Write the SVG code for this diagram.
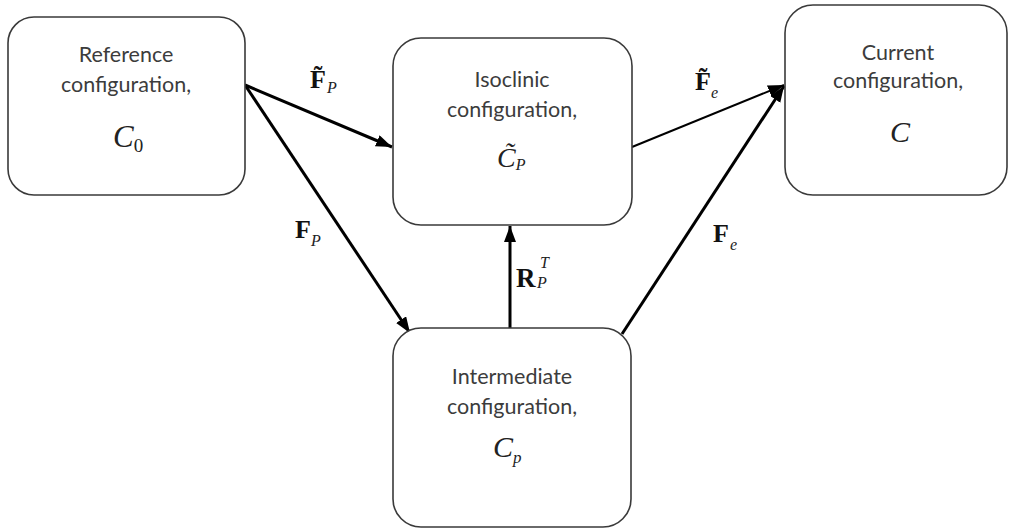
<svg xmlns="http://www.w3.org/2000/svg" width="1011" height="529" viewBox="0 0 1011 529">
<style>
.box{fill:#fff;stroke:#3a3a3a;stroke-width:1.6}
.lbl{font-family:Lato,"Open Sans",sans-serif;font-size:21.5px;fill:#3c3c3c;text-anchor:middle}
.math{font-family:"Liberation Serif",serif;font-style:italic;fill:#222}
.bold{font-family:"Liberation Serif",serif;font-weight:bold;fill:#111}
.sub{font-family:"Liberation Serif",serif;font-style:italic;fill:#222}
.thick{stroke:#000;stroke-width:3;fill:none;marker-end:url(#ah)}
.thin{stroke:#000;stroke-width:2;fill:none;marker-end:url(#ah)}
</style>
<defs>
<marker id="ah" markerUnits="userSpaceOnUse" markerWidth="18" markerHeight="14" refX="16" refY="6" orient="auto">
<path d="M0,0 L16,6 L0,12 Z" fill="#000"/>
</marker>
</defs>
<g id="connectors">
<line class="thick" x1="245" y1="85" x2="392" y2="147"/>
<line class="thick" x1="245" y1="85" x2="410" y2="333"/>
<line class="thin" x1="632" y1="147" x2="784" y2="85"/>
<line class="thick" x1="622" y1="334" x2="784" y2="86"/>
<line class="thick" x1="510" y1="328" x2="510" y2="226"/>
<text class="bold" x="310" y="88" font-size="26">F̃</text>
<text class="sub" x="327" y="93" font-size="16">P</text>
<text class="bold" x="695" y="90" font-size="26">F̃</text>
<text class="sub" x="711" y="98" font-size="16">e</text>
<text class="bold" x="295" y="238" font-size="26">F</text>
<text class="sub" x="311" y="246" font-size="16">P</text>
<text class="bold" x="713" y="242" font-size="26">F</text>
<text class="sub" x="730" y="250" font-size="16">e</text>
<text class="bold" x="516" y="287" font-size="27">R</text>
<text class="sub" x="540" y="268" font-size="16">T</text>
<text class="sub" x="537" y="288" font-size="16">P</text>
</g>
<g id="reference">
<rect class="box" x="8" y="17" width="237" height="178" rx="26"/>
<text class="lbl" x="126" y="62">Reference</text>
<text class="lbl" x="126" y="92">configuration,</text>
<text class="math" x="113" y="147" font-size="31">C<tspan font-style="normal" font-size="19" dy="5">0</tspan></text>
</g>
<g id="isoclinic">
<rect class="box" x="393" y="38" width="239" height="187" rx="28"/>
<text class="lbl" x="512" y="87">Isoclinic</text>
<text class="lbl" x="512" y="117">configuration,</text>
<text class="math" x="497" y="167" font-size="28">C̃<tspan font-size="16" dy="3">P</tspan></text>
</g>
<g id="current">
<rect class="box" x="785" y="5" width="222" height="190" rx="28"/>
<text class="lbl" x="898" y="60">Current</text>
<text class="lbl" x="898" y="88">configuration,</text>
<text class="math" x="890" y="142" font-size="30">C</text>
</g>
<g id="intermediate">
<rect class="box" x="393" y="328" width="238" height="199" rx="28"/>
<text class="lbl" x="512" y="384">Intermediate</text>
<text class="lbl" x="512" y="414">configuration,</text>
<text class="math" x="493" y="457" font-size="30">C<tspan font-size="17" dy="6">p</tspan></text>
</g>
</svg>
